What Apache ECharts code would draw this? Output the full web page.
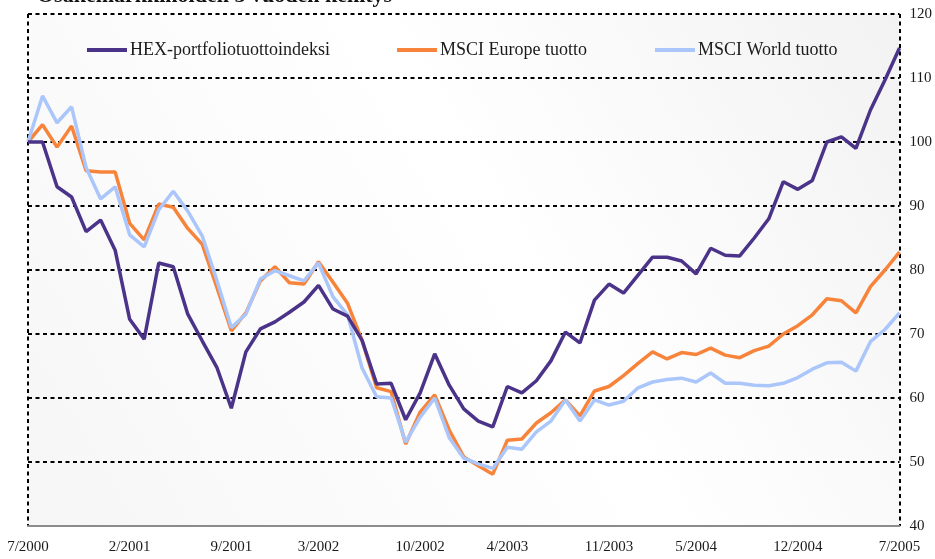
<!DOCTYPE html>
<html>
<head>
<meta charset="utf-8">
<script src="https://cdn.jsdelivr.net/npm/echarts@6/dist/echarts.min.js"></script>
<style>html,body{margin:0;padding:0;background:#fff}#c{width:935px;height:559px}</style>
</head>
<body>
<div id="c"></div>
<script>
var categories = [
 '7/2000','8/2000','9/2000','10/2000','11/2000','12/2000',
 '1/2001','2/2001','3/2001','4/2001','5/2001','6/2001','7/2001','8/2001','9/2001','10/2001','11/2001','12/2001',
 '1/2002','2/2002','3/2002','4/2002','5/2002','6/2002','7/2002','8/2002','9/2002','10/2002','11/2002','12/2002',
 '1/2003','2/2003','3/2003','4/2003','5/2003','6/2003','7/2003','8/2003','9/2003','10/2003','11/2003','12/2003',
 '1/2004','2/2004','3/2004','4/2004','5/2004','6/2004','7/2004','8/2004','9/2004','10/2004','11/2004','12/2004',
 '1/2005','2/2005','3/2005','4/2005','5/2005','6/2005','7/2005'
];
var tickLabels = ['7/2000','2/2001','9/2001','3/2002','10/2002','4/2003','11/2003','5/2004','12/2004','7/2005'];
var seriesNames = ['HEX-portfoliotuottoindeksi','MSCI Europe tuotto','MSCI World tuotto'];
var hex = [100,100,93,91.4,86,87.8,83.1,72.3,69.2,81.1,80.5,73.1,68.9,64.8,58.4,67.2,70.8,71.9,73.4,75,77.6,73.9,72.8,69,62.2,62.3,56.6,60.8,66.9,62,58.3,56.4,55.5,61.8,60.8,62.7,65.8,70.3,68.6,75.3,77.8,76.4,79.2,82,82,81.4,79.4,83.4,82.3,82.2,85,88,93.8,92.6,94,100,100.8,99,105,109.7,114.7];
var europe = [100,102.7,99.2,102.5,95.5,95.3,95.3,87.3,84.7,90.3,89.8,86.5,84,77.3,70.5,73.3,78.3,80.5,78,77.8,81.3,78.1,74.8,69,61.6,61,52.8,57.8,60.5,55,50.8,49.4,48.1,53.4,53.6,56.1,57.7,59.7,57.2,61.1,61.8,63.5,65.4,67.2,66.1,67.1,66.8,67.8,66.7,66.3,67.4,68.1,70,71.3,73,75.5,75.2,73.3,77.4,80,82.8];
var world = [100,107.2,103,105.5,96,91.1,93,85.5,83.6,89.4,92.3,89.2,85.3,78.4,71,73.1,78.6,79.9,79.1,78.3,81.1,75.8,73,64.7,60.2,60,53.1,57,60,53.8,50.6,49.7,49,52.3,52,54.7,56.4,59.7,56.4,59.7,58.9,59.5,61.6,62.5,62.9,63.1,62.5,63.9,62.3,62.3,62,61.9,62.3,63.2,64.5,65.5,65.6,64.2,68.8,70.7,73.3];
var titleText = 'Osakemarkkinoiden 5 vuoden kehitys';

var colors = ['#4a3388','#f7843a','#abc6fb'];
var serif = '"Liberation Serif","Times New Roman",serif';
var dotted = {color:'#000', width:2, type:[4,3.5]};

var chart = echarts.init(document.getElementById('c'), null, {renderer:'canvas'});
function legendFor(i, left){
  return {data:[seriesNames[i]], left:left, top:41, padding:0, icon:'rect', itemWidth:40, itemHeight:4,
    itemGap:0, textStyle:{fontFamily:serif, fontSize:18, color:'#1a1a1a', padding:[0,0,0,-2]}};
}
var option = {
  animation:false,
  backgroundColor:'#ffffff',
  color: colors,
  graphic:[{type:'text', left:37, top:-15, style:{text:titleText, font:'bold 22px '+serif, fill:'#111'}}],
  legend:[legendFor(0,87), legendFor(1,397), legendFor(2,655)],
  grid:{left:28, right:33, top:14, bottom:33, show:true, borderWidth:0,
    backgroundColor:{type:'linear', x:1, y:0, x2:0, y2:1, colorStops:[
      {offset:0,color:'#f2f2f2'},{offset:0.45,color:'#ffffff'},{offset:1,color:'#f6f6f6'}]}},
  xAxis:{type:'category', data:categories, boundaryGap:false,
    axisLine:{show:true, lineStyle:{color:'#8c8c8c', width:2}},
    axisTick:{show:false},
    axisLabel:{interval:function(idx,val){return tickLabels.indexOf(val)>=0;}, margin:14,
      fontFamily:serif, fontSize:15, color:'#1a1a1a', showMaxLabel:true},
    splitLine:{show:true, interval:function(idx){return idx===0||idx===categories.length-1;}, lineStyle:dotted}
  },
  yAxis:{type:'value', position:'right', min:40, max:120, interval:10,
    axisLine:{show:false}, axisTick:{show:false},
    axisLabel:{margin:10, fontFamily:serif, fontSize:15, color:'#1a1a1a'},
    splitLine:{show:true, lineStyle:dotted}
  },
  series:[
    {name:seriesNames[0], type:'line', data:hex, showSymbol:false, lineStyle:{width:3.5, color:colors[0]}, z:3},
    {name:seriesNames[1], type:'line', data:europe, showSymbol:false, lineStyle:{width:3.5, color:colors[1]}, z:2},
    {name:seriesNames[2], type:'line', data:world, showSymbol:false, lineStyle:{width:3.5, color:colors[2]}, z:2}
  ]
};
chart.setOption(option);
</script>
</body>
</html>
